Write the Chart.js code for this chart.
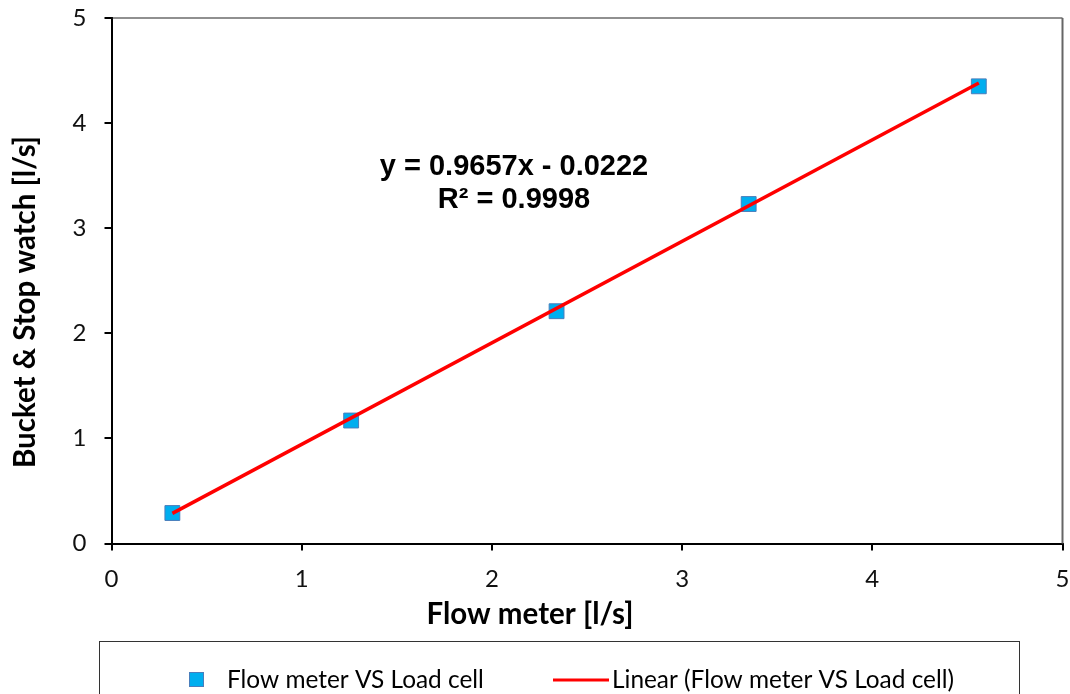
<!DOCTYPE html>
<html>
<head>
<meta charset="utf-8">
<script src="https://cdn.jsdelivr.net/npm/chart.js@4.4.0/dist/chart.umd.min.js"></script>
<style>
  html, body { margin: 0; background: #fff; overflow: hidden; }
  #wrap { width: 1074px; height: 694px; position: relative; }
  canvas { display: block; }
</style>
</head>
<body>
<div id="wrap"><canvas id="myChart"></canvas></div>
<script>
// data
const flowMeter = [0.32, 1.26, 2.34, 3.35, 4.56];
const bucketStop = [0.29, 1.17, 2.21, 3.23, 4.35];
const slope = 0.9657;
const intercept = -0.0222;
const rSquared = 0.9998;
const axisTicks = [0, 1, 2, 3, 4, 5];

const seriesLabel = 'Flow meter VS Load cell';
const trendLabel = 'Linear (Flow meter VS Load cell)';
const xTitle = 'Flow meter [l/s]';
const yTitle = 'Bucket & Stop watch [l/s]';

let points = flowMeter.map((x, i) => ({ x: x, y: bucketStop[i] }));
let xFirst = flowMeter[0], xLast = flowMeter[flowMeter.length - 1];
let trend = [
    { x: xFirst, y: slope * xFirst + intercept },
    { x: xLast, y: slope * xLast + intercept }
];

const tickFont = { family: 'Lato', size: 24 };

// frame, axis titles, equation and boxed legend
const extras = {
    id: 'extras',
    afterDraw(chart) {
        const ctx = chart.ctx;
        const a = chart.chartArea;
        ctx.save();
        // top and right border of the plot area
        ctx.strokeStyle = '#222';
        ctx.lineWidth = 1.2;
        ctx.beginPath();
        ctx.moveTo(a.left, a.top);
        ctx.lineTo(a.right, a.top);
        ctx.stroke();
        ctx.strokeStyle = '#666';
        ctx.lineWidth = 2;
        ctx.beginPath();
        ctx.moveTo(a.right, a.top);
        ctx.lineTo(a.right, a.bottom);
        ctx.stroke();

        // axis titles
        ctx.fillStyle = '#000';
        ctx.font = 'bold 29.5px Lato';
        ctx.textAlign = 'center';
        ctx.textBaseline = 'middle';
        ctx.fillText(xTitle, 530, 614);
        ctx.save();
        ctx.translate(25, 302);
        ctx.rotate(-Math.PI / 2);
        ctx.fillText(yTitle, 0, 0);
        ctx.restore();

        // regression text
        ctx.font = 'bold 29px "Liberation Sans"';
        let sign = intercept < 0 ? ' - ' : ' + ';
        ctx.fillText('y = ' + slope.toFixed(4) + 'x' + sign + Math.abs(intercept).toFixed(4), 514, 167);
        ctx.fillText('R² = ' + rSquared.toFixed(4), 514, 200);

        // legend box
        const ds = chart.data.datasets;
        ctx.strokeStyle = '#333';
        ctx.lineWidth = 1;
        ctx.strokeRect(99.5, 641.5, 920, 60);
        ctx.font = '24.4px Lato';
        ctx.textAlign = 'left';
        ctx.fillStyle = ds[0].backgroundColor;
        ctx.strokeStyle = ds[0].borderColor;
        ctx.fillRect(189, 672, 15, 15);
        ctx.strokeRect(189.5, 672.5, 14, 14);
        ctx.fillStyle = '#000';
        ctx.fillText(ds[0].label, 227, 680);
        ctx.strokeStyle = ds[1].borderColor;
        ctx.lineWidth = 3;
        ctx.beginPath();
        ctx.moveTo(553, 680);
        ctx.lineTo(609, 680);
        ctx.stroke();
        ctx.fillText(ds[1].label, 612, 680);
        ctx.restore();
    }
};

let plot = () => {
    const ctx = document.getElementById('myChart');

    const dataset = {
        datasets: [{
            label: seriesLabel,
            data: points,
            showLine: false,
            pointStyle: 'rect',
            pointRadius: 10.5,
            pointHoverRadius: 10.5,
            backgroundColor: '#00AEEF',
            borderColor: '#4A7EBB',
            borderWidth: 1,
            order: 2
        }, {
            label: trendLabel,
            data: trend,
            showLine: true,
            borderColor: '#FF0000',
            borderWidth: 3.5,
            pointRadius: 0,
            fill: false,
            order: 1
        }]
    };

    const config = {
        type: 'scatter',
        data: dataset,
        plugins: [extras],
        options: {
            responsive: true,
            maintainAspectRatio: false,
            animation: false,
            layout: { padding: { top: 18, right: 0, left: 0, bottom: 0 } },
            plugins: {
                legend: { display: false },
                tooltip: { enabled: false }
            },
            scales: {
                x: {
                    type: 'linear',
                    min: axisTicks[0],
                    max: axisTicks[axisTicks.length - 1],
                    afterBuildTicks: (s) => { s.ticks = axisTicks.map(v => ({ value: v })); },
                    afterFit: (s) => { s.height = 150.5; s.paddingLeft = 0; s.paddingRight = 0; },
                    grid: { drawOnChartArea: false, drawTicks: true, tickLength: 7, color: '#000', lineWidth: 2 },
                    border: { color: '#000', width: 2 },
                    ticks: { font: tickFont, color: '#111', padding: 14, maxRotation: 0 }
                },
                y: {
                    type: 'linear',
                    min: axisTicks[0],
                    max: axisTicks[axisTicks.length - 1],
                    afterBuildTicks: (s) => { s.ticks = axisTicks.map(v => ({ value: v })); },
                    afterFit: (s) => { s.width = 111.5; s.paddingTop = 0; s.paddingBottom = 0; },
                    grid: { drawOnChartArea: false, drawTicks: true, tickLength: 7, color: '#000', lineWidth: 2 },
                    border: { color: '#000', width: 2 },
                    ticks: { font: tickFont, color: '#111', padding: 18 }
                }
            }
        }
    };

    const chart = new Chart(ctx, config);
};

plot();
</script>
</body>
</html>
